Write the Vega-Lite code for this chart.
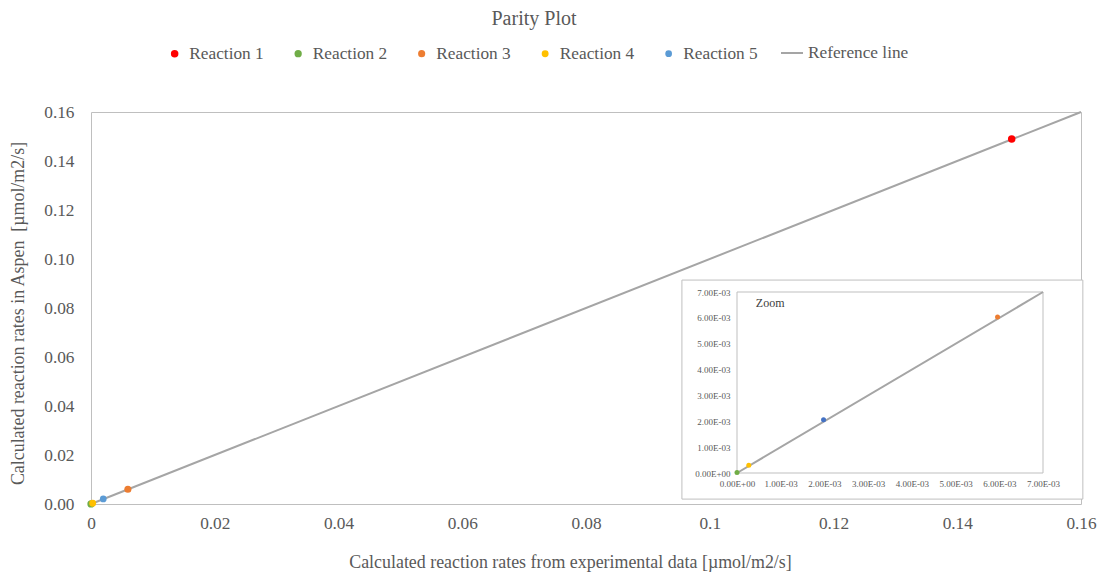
{
  "$schema": "https://vega.github.io/schema/vega-lite/v6.json",
  "width": 990,
  "height": 392,
  "autosize": {"type": "none"},
  "padding": {"left": 91, "top": 112, "right": 16, "bottom": 68},
  "background": "white",
  "config": {
    "font": "Liberation Serif",
    "view": {"stroke": "#BFBFBF", "strokeWidth": 1},
    "axis": {
      "grid": false,
      "ticks": false,
      "tickSize": 0,
      "domain": false,
      "labelFlush": false,
      "labelColor": "#595959",
      "titleColor": "#595959",
      "labelFont": "Liberation Serif",
      "titleFont": "Liberation Serif",
      "titleFontWeight": "normal"
    },
    "legend": {
      "labelFont": "Liberation Serif",
      "labelFontSize": 17.3,
      "labelColor": "#595959",
      "padding": 0
    }
  },
  "title": {
    "text": "Parity Plot",
    "fontSize": 20,
    "fontWeight": "normal",
    "color": "#595959",
    "font": "Liberation Serif",
    "anchor": "middle",
    "frame": "group",
    "dx": -52,
    "offset": 12
  },
  "datasets": {
    "points": [
      {"series": "Reaction 1", "experimental": 0.1488, "aspen": 0.149},
      {"series": "Reaction 2", "experimental": 0.0, "aspen": 0.00002},
      {"series": "Reaction 3", "experimental": 0.00596, "aspen": 0.00603},
      {"series": "Reaction 4", "experimental": 0.00027, "aspen": 0.0003},
      {"series": "Reaction 5", "experimental": 0.00198, "aspen": 0.00206}
    ],
    "mainLine": [
      {"series": "Reference line", "experimental": 0, "aspen": 0},
      {"series": "Reference line", "experimental": 0.16, "aspen": 0.16}
    ],
    "zoomLine": [
      {"experimental": 0, "aspen": 0},
      {"experimental": 0.007, "aspen": 0.007}
    ]
  },
  "layer": [
    {
      "layer": [
        {
          "data": {"values": [{}]},
          "mark": {"type": "rect", "fill": "white", "stroke": "#BFBFBF", "strokeWidth": 1},
          "encoding": {
            "x": {"datum": 0.0955, "type": "quantitative"},
            "x2": {"datum": 0.1603},
            "y": {"datum": 0.002, "type": "quantitative"},
            "y2": {"datum": 0.0914}
          }
        },
        {
          "data": {"name": "mainLine"},
          "mark": {"type": "line", "strokeWidth": 2},
          "encoding": {
            "x": {
              "field": "experimental",
              "type": "quantitative",
              "scale": {"domain": [0, 0.16], "nice": false, "zero": false},
              "axis": {
                "orient": "bottom",
                "values": [0, 0.02, 0.04, 0.06, 0.08, 0.1, 0.12, 0.14, 0.16],
                "format": ".2~f",
                "labelFontSize": 17.3,
                "labelPadding": 10,
                "title": "Calculated reaction rates from experimental data [µmol/m2/s]",
                "titleFontSize": 17.9,
                "titlePadding": 22,
                "titleX": 479
              }
            },
            "y": {
              "field": "aspen",
              "type": "quantitative",
              "scale": {"domain": [0, 0.16], "nice": false, "zero": false},
              "axis": {
                "orient": "left",
                "values": [0, 0.02, 0.04, 0.06, 0.08, 0.1, 0.12, 0.14, 0.16],
                "format": ".2f",
                "labelFontSize": 17.3,
                "labelPadding": 17,
                "title": "Calculated reaction rates in Aspen\u00a0 [µmol/m2/s]",
                "titleFontSize": 17.9,
                "titlePadding": 16,
                "titleY": 201
              }
            },
            "stroke": {
              "field": "series",
              "type": "nominal",
              "scale": {"domain": ["Reference line"], "range": ["#A5A5A5"]},
              "legend": {
                "orient": "none",
                "legendX": 689,
                "legendY": -71,
                "direction": "horizontal",
                "title": null,
                "symbolType": "stroke",
                "symbolSize": 484,
                "symbolStrokeWidth": 2,
                "labelOffset": 4
              }
            }
          }
        },
        {
          "data": {"name": "points"},
          "mark": {"type": "point", "filled": true, "opacity": 1},
          "encoding": {
            "x": {"field": "experimental", "type": "quantitative"},
            "y": {"field": "aspen", "type": "quantitative"},
            "color": {
              "field": "series",
              "type": "nominal",
              "scale": {
                "domain": ["Reaction 1", "Reaction 2", "Reaction 3", "Reaction 4", "Reaction 5"],
                "range": ["#FF0000", "#70AD47", "#ED7D31", "#FFC000", "#5B9BD5"]
              },
              "legend": {
                "orient": "none",
                "legendX": 75,
                "legendY": -67,
                "direction": "horizontal",
                "title": null,
                "labelOffset": 6,
                "columnPadding": 25.5
              }
            },
            "size": {
              "field": "series",
              "type": "nominal",
              "scale": {
                "domain": ["Reaction 1", "Reaction 2", "Reaction 3", "Reaction 4", "Reaction 5"],
                "range": [56, 45, 45, 22, 45]
              },
              "legend": {
                "orient": "none",
                "legendX": 75,
                "legendY": -67,
                "direction": "horizontal",
                "title": null,
                "labelOffset": 6,
                "columnPadding": 25.5
              }
            }
          }
        }
      ]
    },
    {
      "layer": [
        {
          "data": {"values": [{}]},
          "mark": {"type": "rect", "fill": "transparent", "stroke": "#BFBFBF", "strokeWidth": 1},
          "encoding": {
            "x": {"datum": 0, "type": "quantitative"},
            "x2": {"datum": 0.007},
            "y": {"datum": 0, "type": "quantitative"},
            "y2": {"datum": 0.007}
          }
        },
        {
          "data": {"name": "zoomLine"},
          "mark": {"type": "line", "color": "#A5A5A5", "strokeWidth": 2},
          "encoding": {
            "x": {
              "field": "experimental",
              "type": "quantitative",
              "scale": {"domain": [0, 0.007], "range": [646, 952], "nice": false, "zero": false},
              "axis": {
                "orient": "bottom",
                "offset": -31,
                "zindex": 2,
                "values": [0, 0.001, 0.002, 0.003, 0.004, 0.005, 0.006, 0.007],
                "labelExpr": "datum.value == 0 ? '0.00E+00' : format(datum.value * 1000, '.2f') + 'E-03'",
                "labelFontSize": 9,
                "labelPadding": 6,
                "title": null
              }
            },
            "y": {
              "field": "aspen",
              "type": "quantitative",
              "scale": {"domain": [0, 0.007], "range": [361, 180], "nice": false, "zero": false},
              "axis": {
                "orient": "left",
                "offset": -646,
                "zindex": 2,
                "values": [0, 0.001, 0.002, 0.003, 0.004, 0.005, 0.006, 0.007],
                "labelExpr": "datum.value == 0 ? '0.00E+00' : format(datum.value * 1000, '.2f') + 'E-03'",
                "labelFontSize": 9,
                "labelPadding": 7,
                "title": null
              }
            }
          }
        },
        {
          "data": {"name": "points"},
          "transform": [{"filter": "datum.series !== 'Reaction 1'"}],
          "mark": {"type": "point", "filled": true, "opacity": 1, "size": 25},
          "encoding": {
            "x": {"field": "experimental", "type": "quantitative"},
            "y": {"field": "aspen", "type": "quantitative"},
            "fill": {
              "field": "series",
              "type": "nominal",
              "scale": {
                "domain": ["Reaction 2", "Reaction 3", "Reaction 4", "Reaction 5"],
                "range": ["#70AD47", "#ED7D31", "#FFC000", "#4472C4"]
              },
              "legend": null
            }
          }
        },
        {
          "data": {"values": [{}]},
          "mark": {"type": "text", "text": "Zoom", "align": "left", "baseline": "middle", "fontSize": 12, "color": "#404040", "font": "Liberation Serif"},
          "encoding": {
            "x": {"datum": 0.00043, "type": "quantitative"},
            "y": {"datum": 0.00659, "type": "quantitative"}
          }
        }
      ]
    }
  ],
  "resolve": {
    "scale": {"x": "independent", "y": "independent"},
    "axis": {"x": "independent", "y": "independent"}
  }
}
